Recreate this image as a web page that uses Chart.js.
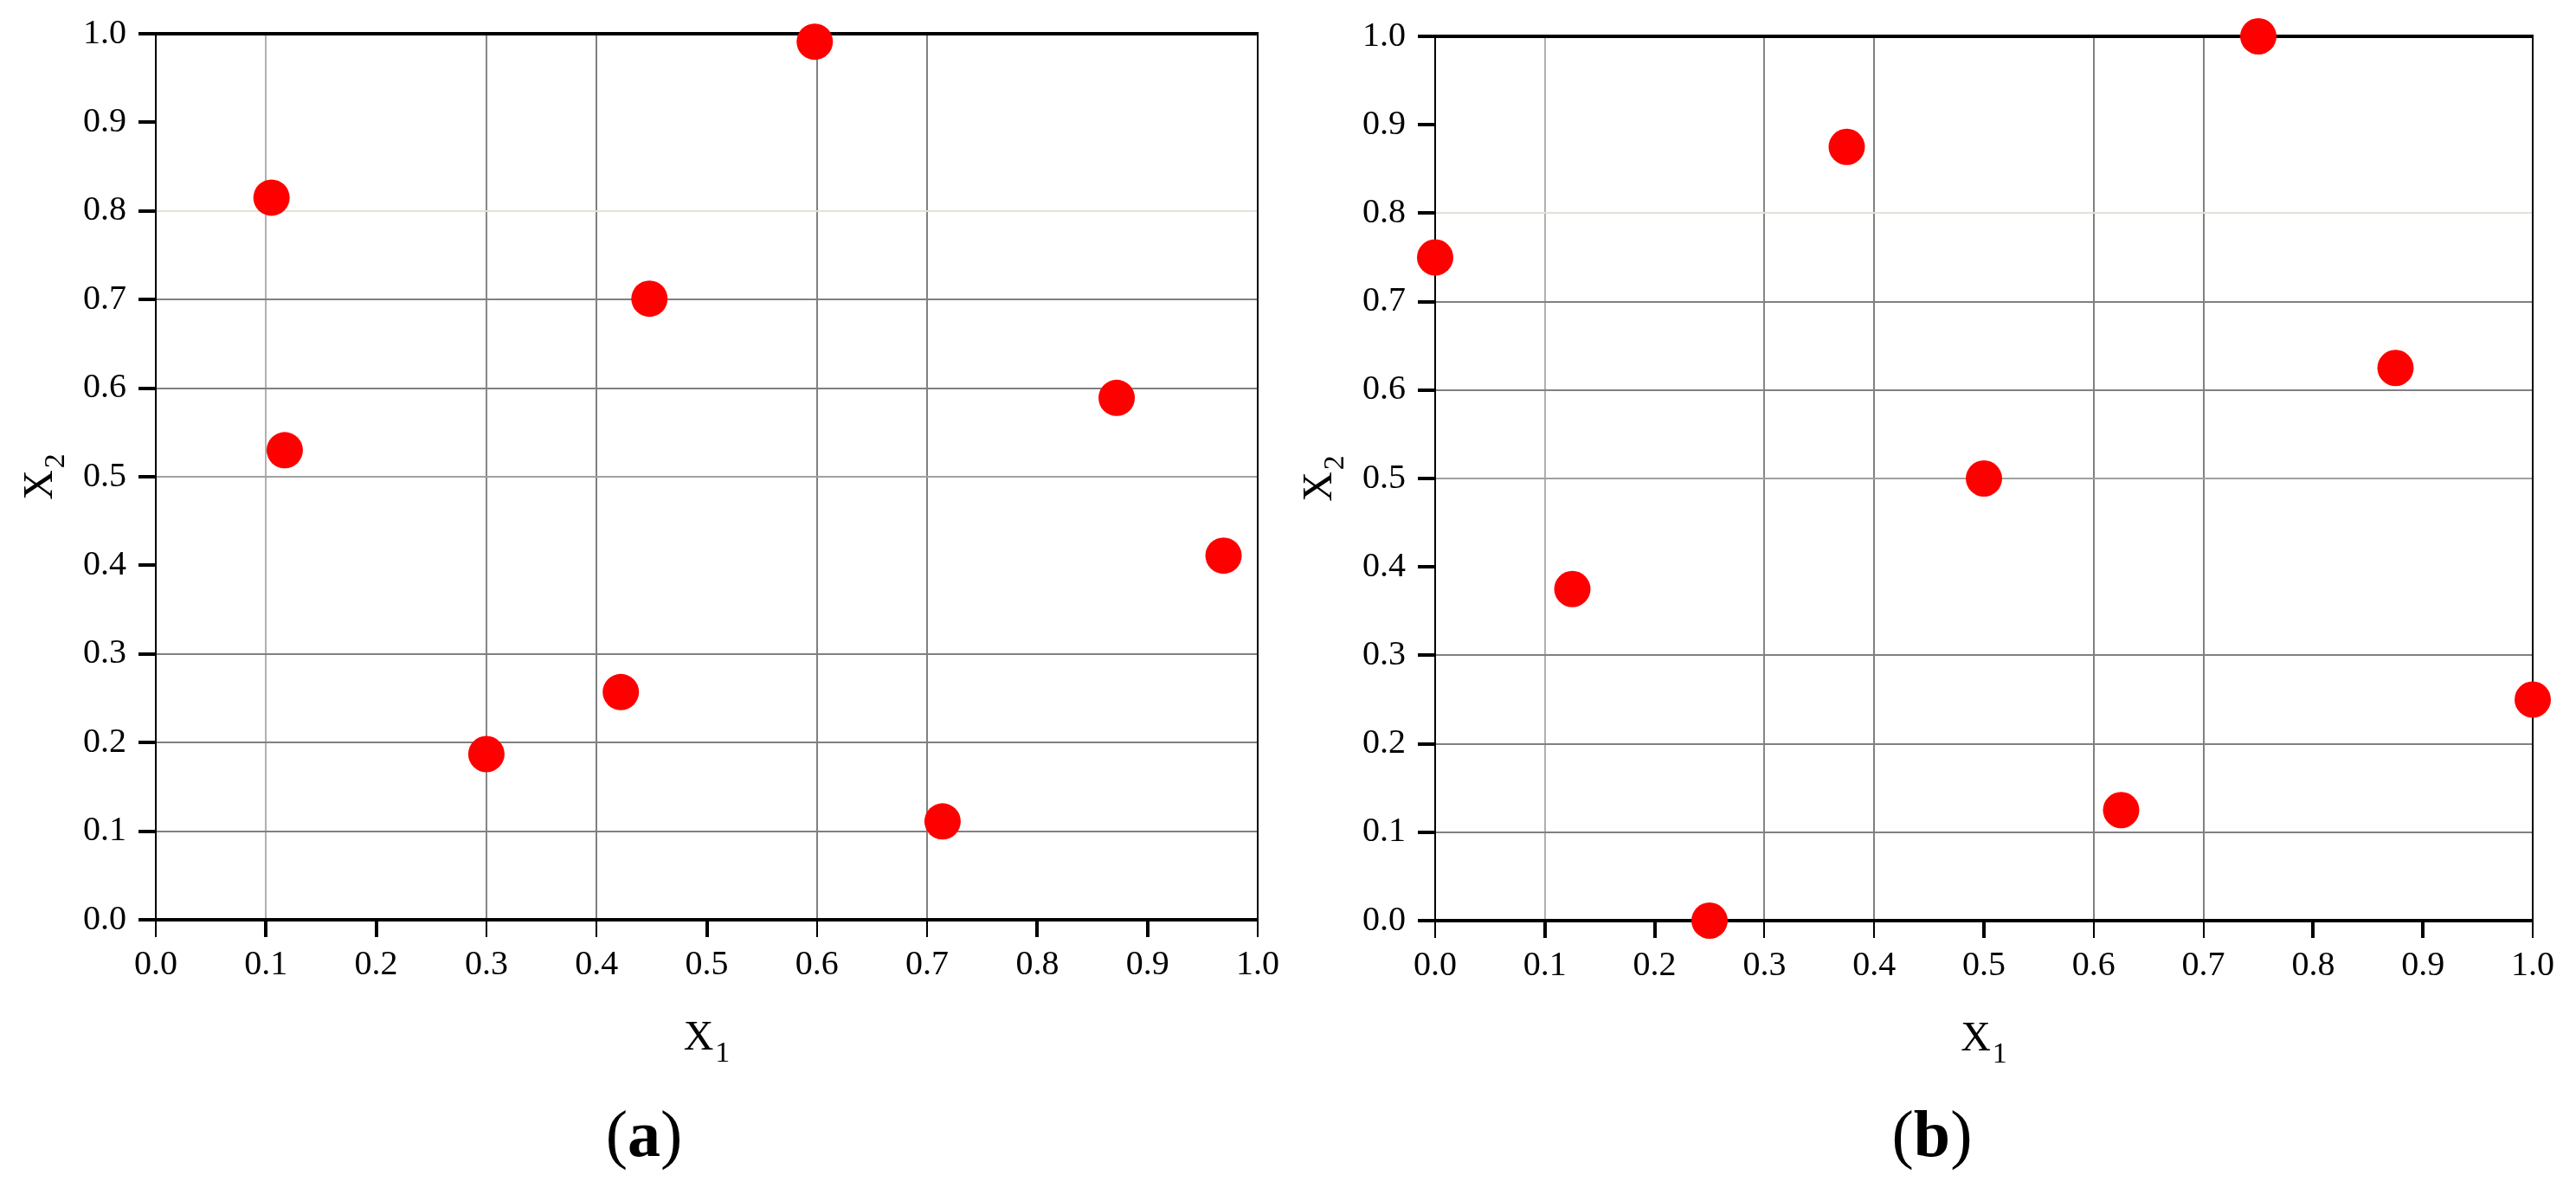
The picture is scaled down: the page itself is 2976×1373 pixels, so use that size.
<!DOCTYPE html>
<html>
<head>
<meta charset="utf-8">
<script src="https://cdn.jsdelivr.net/npm/chart.js@4.4.1/dist/chart.umd.min.js"></script>
<style>
  body { margin: 0; background: #fff; }
  #wrap { position: relative; width: 2976px; height: 1373px; }
  .panel { position: absolute; top: 0; width: 1488px; height: 1373px; }
</style>
</head>
<body>
<div id="wrap">
  <div class="panel" style="left:0"><canvas id="chart_a" width="1488" height="1373"></canvas></div>
  <div class="panel" style="left:1488px"><canvas id="chart_b" width="1488" height="1373"></canvas></div>
</div>
<script>
// design points
const A_X1 = [0.105, 0.117, 0.300, 0.422, 0.448, 0.598, 0.714, 0.872, 0.969];
const A_X2 = [0.815, 0.530, 0.187, 0.257, 0.701, 0.991, 0.111, 0.589, 0.411];
const B_X1 = [0.000, 0.125, 0.250, 0.375, 0.500, 0.625, 0.750, 0.875, 1.000];
const B_X2 = [0.750, 0.375, 0.000, 0.875, 0.500, 0.125, 1.000, 0.625, 0.250];
const AXIS_MIN = 0;
const AXIS_MAX = 1;
const AXIS_STEP = 0.1;
const X_NAME = ['X', '1'];
const Y_NAME = ['X', '2'];
const PANEL_LETTERS = ['a', 'b'];

const SERIF = '"Liberation Serif", "Times New Roman", serif';

// grid lines only show up at some ticks in the original (keyed by tenths)
const X_GRID = { 1: '#b0b0b0', 3: '#868686', 4: '#808080', 6: '#808080', 7: '#808080' };
const Y_GRID = { 1: '#808080', 2: '#808080', 3: '#808080', 5: '#a0a0a0', 6: '#808080', 7: '#808080', 8: '#e2e2da' };
const THIN_X_TICKS = [0, 3, 4, 6, 7, 10];

function tenths(ctx) {
  if (!ctx.tick) return -1;
  return Math.round(ctx.tick.value * 10);
}

function draw_sub_label(ctx, main, sub, cx, base_y) {
  ctx.font = '48px ' + SERIF;
  const w1 = ctx.measureText(main).width;
  ctx.font = '34px ' + SERIF;
  const w2 = ctx.measureText(sub).width;
  const x = cx - (w1 + 2 + w2) / 2;
  ctx.textAlign = 'left';
  ctx.font = '48px ' + SERIF;
  ctx.fillText(main, x, base_y);
  ctx.font = '34px ' + SERIF;
  ctx.fillText(sub, x + w1 + 2, base_y + 14);
}

// axis titles with subscripts and the (a)/(b) caption
const panel_text = {
  id: 'panelText',
  afterDraw(chart, args, opts) {
    const ctx = chart.ctx;
    const ca = chart.chartArea;
    ctx.save();
    ctx.fillStyle = '#000';
    ctx.textBaseline = 'alphabetic';
    draw_sub_label(ctx, X_NAME[0], X_NAME[1], (ca.left + ca.right) / 2, ca.bottom + 150);

    ctx.save();
    ctx.translate(ca.left - 120, (ca.top + ca.bottom) / 2);
    ctx.rotate(-Math.PI / 2);
    draw_sub_label(ctx, Y_NAME[0], Y_NAME[1], 0, 0);
    ctx.restore();

    // caption: plain brackets, bold letter
    const normal = '76px ' + SERIF;
    const bold = 'bold 76px ' + SERIF;
    ctx.font = normal;
    const wp = ctx.measureText('(').width;
    ctx.font = bold;
    const wl = ctx.measureText(opts.letter).width;
    let x = chart.width / 2 - (wp * 2 + wl) / 2;
    const y = chart.height - 37;
    ctx.textAlign = 'left';
    ctx.font = normal;
    ctx.fillText('(', x, y);
    ctx.font = bold;
    ctx.fillText(opts.letter, x + wp, y);
    ctx.font = normal;
    ctx.fillText(')', x + wp + wl, y);
    ctx.restore();
  }
};

function make_points(xs, ys) {
  return xs.map((v, i) => ({ x: v, y: ys[i] }));
}

function setup_panel(canvas_id, xs, ys, letter, pad, y_width, x_height) {
  const el = document.getElementById(canvas_id).getContext('2d');
  return new Chart(el, {
    type: 'scatter',
    data: {
      datasets: [{
        data: make_points(xs, ys),
        backgroundColor: '#ff0000',
        borderWidth: 0,
        pointRadius: 21,
        pointHoverRadius: 21,
        clip: false
      }]
    },
    options: {
      responsive: false,
      animation: false,
      events: [],
      layout: { padding: pad },
      plugins: {
        legend: { display: false },
        tooltip: { enabled: false },
        panelText: { letter: letter }
      },
      scales: {
        x: {
          type: 'linear',
          position: 'bottom',
          min: AXIS_MIN,
          max: AXIS_MAX,
          afterFit: (s) => { s.height = x_height; },
          ticks: {
            stepSize: AXIS_STEP,
            padding: 8,
            color: '#000',
            font: { family: SERIF, size: 40 },
            callback: (v) => Number(v).toFixed(1)
          },
          grid: {
            color: (ctx) => X_GRID[tenths(ctx)] || 'rgba(0,0,0,0)',
            lineWidth: 2,
            drawTicks: true,
            tickLength: 20,
            tickColor: '#000',
            tickWidth: (ctx) => THIN_X_TICKS.includes(tenths(ctx)) ? 2 : 4
          },
          border: { color: '#000', width: 4 }
        },
        y: {
          type: 'linear',
          position: 'left',
          min: AXIS_MIN,
          max: AXIS_MAX,
          afterFit: (s) => { s.width = y_width; },
          ticks: {
            stepSize: AXIS_STEP,
            padding: 14,
            color: '#000',
            font: { family: SERIF, size: 40 },
            callback: (v) => Number(v).toFixed(1)
          },
          grid: {
            color: (ctx) => Y_GRID[tenths(ctx)] || 'rgba(0,0,0,0)',
            lineWidth: 2,
            drawTicks: true,
            tickLength: 20,
            tickColor: '#000',
            tickWidth: 4
          },
          border: { color: '#000', width: 2 }
        },
        // frame on top and right
        x_top: {
          type: 'linear',
          position: 'top',
          min: AXIS_MIN,
          max: AXIS_MAX,
          afterFit: (s) => { s.height = 0; },
          ticks: { display: false },
          grid: { display: false, drawTicks: false },
          border: { color: '#000', width: 4 }
        },
        y_right: {
          type: 'linear',
          position: 'right',
          min: AXIS_MIN,
          max: AXIS_MAX,
          afterFit: (s) => { s.width = 0; },
          ticks: { display: false },
          grid: { display: false, drawTicks: false },
          border: { color: '#000', width: 2 }
        }
      }
    },
    plugins: [panel_text]
  });
}

(() => {
  setup_panel('chart_a', A_X1, A_X2, PANEL_LETTERS[0], { left: 0, top: 39, right: 35, bottom: 108 }, 180, 202);
  setup_panel('chart_b', B_X1, B_X2, PANEL_LETTERS[1], { left: 0, top: 42, right: 50, bottom: 108 }, 170, 201);
})()
</script>
</body>
</html>
